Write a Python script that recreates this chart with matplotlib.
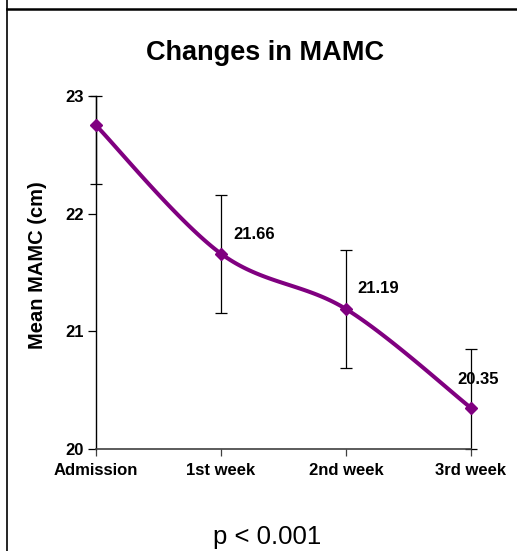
import numpy as np
import matplotlib
matplotlib.use('Agg')
import matplotlib.pyplot as plt

plt.rcParams['font.family'] = ['Liberation Sans', 'DejaVu Sans']

weeks = ['Admission', '1st week', '2nd week', '3rd week']
mean_mamc = [22.75, 21.66, 21.19, 20.35]
sd_mamc = [0.5, 0.5, 0.5, 0.5]
shown_labels = ['', '21.66', '21.19', '20.35']
label_offsets = [(0, 0), (12, 19), (11, 20), (-13, 28)]

PURPLE = '#800080'
Y_MIN, Y_MAX = 20, 23


def smooth_curve(xs, ys, steps=40):
    # catmull-rom style curve through every point, like a spreadsheet "smoothed line"
    pts = np.column_stack([xs, ys]).astype(float)
    n = len(pts)
    out = []
    for i in range(n - 1):
        p0 = pts[max(i - 1, 0)]
        p1 = pts[i]
        p2 = pts[i + 1]
        p3 = pts[min(i + 2, n - 1)]
        c1 = p1 + (p2 - p0) / 6.0
        c2 = p2 - (p3 - p1) / 6.0
        t = np.linspace(0, 1, steps)[:, None]
        seg = ((1 - t) ** 3) * p1 + 3 * ((1 - t) ** 2) * t * c1 \
            + 3 * (1 - t) * t ** 2 * c2 + t ** 3 * p2
        out.append(seg if i == 0 else seg[1:])
    out = np.vstack(out)
    return out[:, 0], out[:, 1]


def main():
    fig = plt.figure(figsize=(5.17, 5.51), dpi=100)
    ax = fig.add_axes([0.1857, 0.1851, 0.725, 0.6407])

    x = np.arange(len(weeks))
    means = np.array(mean_mamc)
    sds = np.array(sd_mamc)
    # whiskers stop at the axis limits
    lo = np.maximum(means - sds, Y_MIN)
    hi = np.minimum(means + sds, Y_MAX)
    err = ax.errorbar(x, means, yerr=[means - lo, hi - means], fmt='none',
                      ecolor='black', elinewidth=0.9, capsize=4, capthick=0.9,
                      zorder=2)
    for art in err.lines[1] + err.lines[2]:
        art.set_clip_on(False)

    sx, sy = smooth_curve(x, mean_mamc)
    ax.plot(sx, sy, color=PURPLE, lw=2.9, solid_capstyle='round', zorder=3,
            clip_on=False)
    ax.plot(x, mean_mamc, linestyle='none', marker='D', ms=6,
            color=PURPLE, zorder=4, clip_on=False)

    for xi, yi, lab, off in zip(x, mean_mamc, shown_labels, label_offsets):
        if lab:
            ax.annotate(lab, (xi, yi), xytext=off, textcoords='offset pixels',
                        fontsize=12, fontweight='bold', ha='left', va='center',
                        zorder=5)

    ax.set_xlim(0, 3)
    ax.set_ylim(Y_MIN, Y_MAX)
    ax.set_yticks([20, 21, 22, 23])
    ax.set_xticks(x)
    ax.set_xticklabels(weeks, fontsize=12, fontweight='bold')
    ax.set_yticklabels(['20', '21', '22', '23'], fontsize=12, fontweight='bold')
    ax.tick_params(axis='y', direction='out', length=6, width=0.9, pad=3)
    ax.tick_params(axis='x', direction='out', length=5, width=0.9, pad=5,
                   color='#404040')
    ax.set_ylabel('Mean MAMC (cm)', fontsize=14.5, fontweight='bold')
    ax.yaxis.set_label_coords(-0.13, 0.521)

    for side in ['top', 'right']:
        ax.spines[side].set_visible(False)
    ax.spines['left'].set_linewidth(1.0)
    ax.spines['bottom'].set_linewidth(1.2)
    ax.spines['bottom'].set_color('#404040')

    fig.text(0.513, 0.904, 'Changes in MAMC', fontsize=19.5, fontweight='bold',
             ha='center', va='center')
    fig.text(0.516, 0.026, 'p < 0.001', fontsize=18.5, ha='center', va='center')

    # page frame lines
    fig.add_artist(plt.Line2D([7 / 517, 7 / 517], [0, 1], color='black', lw=1.2))
    fig.add_artist(plt.Line2D([7 / 517, 1], [1 - 8.5 / 551, 1 - 8.5 / 551],
                              color='black', lw=1.8))

    fig.savefig('out.png', dpi=100)


if __name__ == '__main__':
    main()
